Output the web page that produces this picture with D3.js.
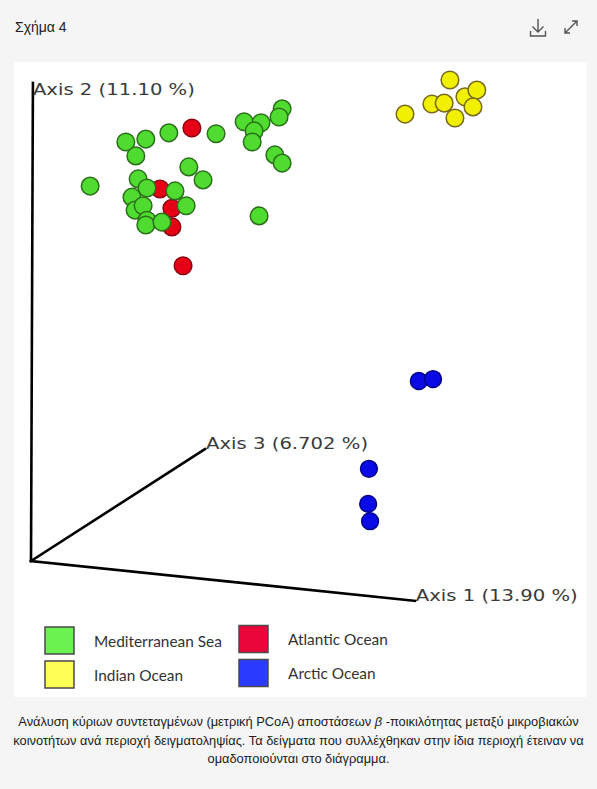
<!DOCTYPE html>
<html><head><meta charset="utf-8">
<script src="https://cdn.jsdelivr.net/npm/d3@7/dist/d3.min.js"></script>
<style>
html,body{margin:0;padding:0;background:#f5f5f5;}
svg{display:block;}
</style></head>
<body>
<script>
// ---- data (projected PCoA coordinates) ----
const categories = ["Mediterranean Sea", "Atlantic Ocean", "Indian Ocean", "Arctic Ocean"];
const axisLabels = ["Axis 1 (13.90 %)", "Axis 2 (11.10 %)", "Axis 3 (6.702 %)"];

const medX = [24.7,29.9,35.9,48.2,27.3,41.1,44.8,15.4,27.9,30.2,37.5,26.3,40.4,27.1,29.2,30.2,29.9,34.1,55.5,59.9,58.1,57.6,65.4,64.6,63.5,65.4,59.4];
const medY = [87.3,87.9,89.2,89.0,84.4,82.1,79.4,78.1,79.6,77.7,77.1,75.8,74.0,73.1,74.0,71.0,70.0,70.6,91.5,91.3,89.6,87.3,94.2,92.5,84.6,82.9,71.9];

const atlX = [41.9,33.6,36.7,36.7,39.6];
const atlY = [90.2,77.5,73.5,69.6,61.5];

const indX = [109.1,97.4,104.4,107.6,110.4,113.0,116.1,115.1];
const indY = [100.2,93.1,95.2,95.4,92.3,96.7,98.1,94.6];

const arcX = [101.0,104.7,88.0,87.8,88.3];
const arcY = [37.5,37.9,19.2,11.9,8.3];

const caption = [
  "Ανάλυση κύριων συντεταγμένων (μετρική PCoA) αποστάσεων |β| -ποικιλότητας μεταξύ μικροβιακών",
  "κοινοτήτων ανά περιοχή δειγματοληψίας. Τα δείγματα που συλλέχθηκαν στην ίδια περιοχή έτειναν να",
  "ομαδοποιούνται στο διάγραμμα."
];

// ---- styles ----
const pointFill   = {"Mediterranean Sea":"#4fdb2f","Atlantic Ocean":"#e60016","Indian Ocean":"#f0f000","Arctic Ocean":"#0a0ae6"};
const pointStroke = {"Mediterranean Sea":"#2b6e1a","Atlantic Ocean":"#8c0010","Indian Ocean":"#76671a","Arctic Ocean":"#00008a"};
const legendFill  = {"Mediterranean Sea":"#6cf24f","Atlantic Ocean":"#ea063a","Indian Ocean":"#ffff57","Arctic Ocean":"#2b3aff"};

const W = 597, H = 789;
const svg = d3.select("body").append("svg").attr("width", W).attr("height", H);

svg.append("rect").attr("width", W).attr("height", H).attr("fill", "#f5f5f5");

// header
svg.append("text").attr("x", 15).attr("y", 32)
  .attr("font-family", "Liberation Sans, Arial, sans-serif").attr("font-size", 14)
  .attr("fill", "#222").text("Σχήμα 4");

// download icon
const ic = svg.append("g").attr("stroke", "#555").attr("fill", "none").attr("stroke-width", 1.4);
ic.append("path").attr("d", "M538,19 V32 M532.5,26.5 L538,32 L543.5,26.5 M530.5,31 V36 H545.5 V31");
// expand icon
ic.append("path").attr("d", "M565,33 L577,21 M572,21 H577 V26 M565,28 V33 H570");

// white figure panel
svg.append("rect").attr("x", 14).attr("y", 62).attr("width", 573).attr("height", 635).attr("fill", "#fff");

// scales
const x = d3.scaleLinear().domain([0, 100]).range([31, 415]);
const y = d3.scaleLinear().domain([0, 100]).range([561, 81]);

// axes (3D projection)
const origin = [0, 0];
const axisEnds = [[100, -8.3], [0.5, 99.6], [45.3, 23.3]];
svg.append("g").selectAll("line").data(axisEnds).join("line")
  .attr("x1", x(origin[0])).attr("y1", y(origin[1]))
  .attr("x2", d => x(d[0])).attr("y2", d => y(d[1]))
  .attr("stroke", "#000").attr("stroke-width", 2.6).attr("stroke-linecap", "square");

const labelPos = [[100.2, -8.3, 0], [0.5, 99.6, 1], [45.6, 23.3, 2]];
svg.append("g").selectAll("text").data(labelPos).join("text")
  .attr("x", d => x(d[0])).attr("y", d => y(d[1]) + (d[2] === 1 ? 12 : 0))
  .attr("font-family", "DejaVu Sans, Verdana, sans-serif").attr("font-size", 16.5)
  .attr("fill", "#3a3a3a")
  .attr("textLength", 162).attr("lengthAdjust", "spacingAndGlyphs")
  .text(d => axisLabels[d[2]]);

// points
function series(cat, xs, ys) { return xs.map((v, i) => ({cat, x: v, y: ys[i]})); }
const pts = [].concat(
  series("Atlantic Ocean", atlX, atlY),
  series("Mediterranean Sea", medX, medY),
  series("Indian Ocean", indX, indY),
  series("Arctic Ocean", arcX, arcY)
);
svg.append("g").selectAll("circle").data(pts).join("circle")
  .attr("cx", d => x(d.x)).attr("cy", d => y(d.y))
  .attr("r", d => d.cat === "Arctic Ocean" ? 8.4 : 8.8)
  .attr("fill", d => pointFill[d.cat])
  .attr("stroke", d => pointStroke[d.cat]).attr("stroke-width", 1.5);

// legend
const legendOrder = ["Mediterranean Sea", "Indian Ocean", "Atlantic Ocean", "Arctic Ocean"];
const lg = svg.append("g").selectAll("g").data(legendOrder).join("g")
  .attr("transform", (d, i) => `translate(${i < 2 ? 45 : 239},${(i % 2 === 0 ? 627 : 661) - (i >= 2 ? 1.5 : 0)})`);
lg.append("rect").attr("width", 29).attr("height", 27)
  .attr("fill", d => legendFill[d]).attr("stroke", "#4a4a4a").attr("stroke-width", 1.5);
lg.append("text").attr("x", 49).attr("y", 19.5)
  .attr("font-family", "Lato, Open Sans, sans-serif").attr("font-size", 15.4)
  .attr("fill", "#333").text(d => d);

// caption
const cap = svg.append("g").attr("font-family", "Liberation Sans, Arial, sans-serif")
  .attr("font-size", 12.85).attr("fill", "#1a1a1a").attr("text-anchor", "middle");
caption.forEach((line, i) => {
  const t = cap.append("text").attr("x", 298.5).attr("y", 726 + i * 18.5);
  line.split("|").forEach((part, j) => {
    t.append("tspan").attr("font-style", j === 1 ? "italic" : null).text(part);
  });
});
</script>
</body></html>
